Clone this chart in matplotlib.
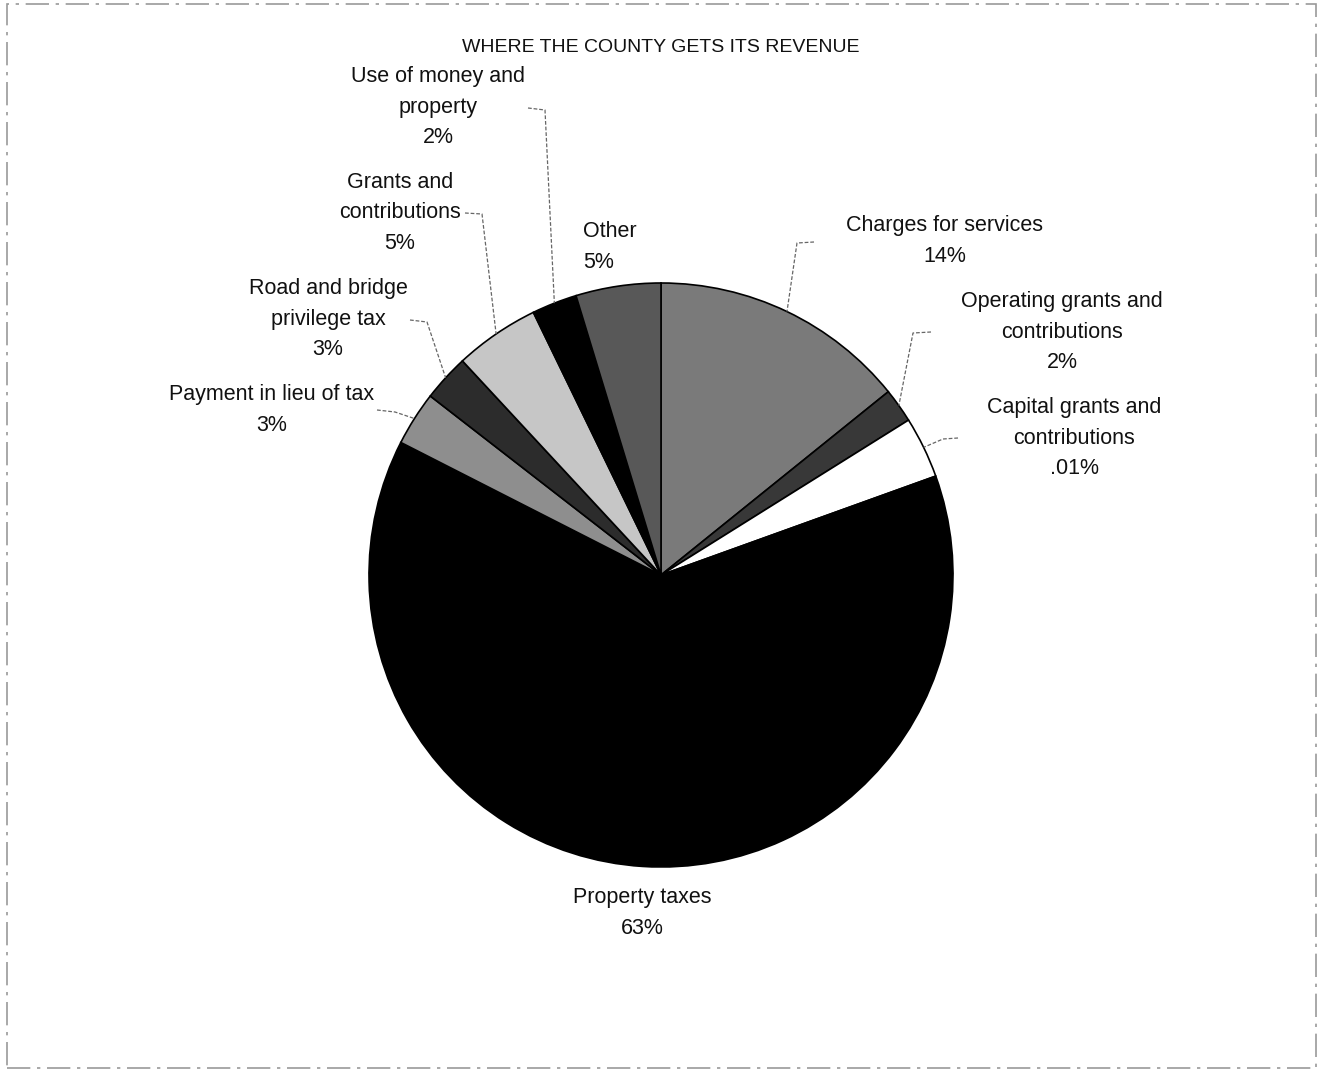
import numpy as np
import matplotlib
matplotlib.use('Agg')
import matplotlib.pyplot as plt
from matplotlib.patches import Rectangle

plt.rcParams['font.family'] = ['Liberation Sans', 'DejaVu Sans']

# slices, clockwise from 12 o'clock
categories = ['Charges for services', 'Operating grants and\ncontributions',
              'Capital grants and\ncontributions', 'Property taxes',
              'Payment in lieu of tax', 'Road and bridge\nprivilege tax',
              'Grants and\ncontributions', 'Use of money and\nproperty', 'Other']
shares = [14.2, 1.9, 3.4, 63.0, 3.0, 2.6, 4.7, 2.5, 4.7]
pct_labels = ['14%', '2%', '.01%', '63%', '3%', '3%', '5%', '2%', '5%']
colors = ['#7a7a7a', '#383838', '#ffffff', '#000000', '#8e8e8e',
          '#2c2c2c', '#c6c6c6', '#000000', '#585858']

W, H = 1322, 1071
fig = plt.figure(figsize=(W / 100, H / 100), dpi=100)
ax = fig.add_axes([0, 0, 1, 1])

cx, cy, r = 661, H - 575, 292
wedges, _ = ax.pie(shares, colors=colors, startangle=90, counterclock=False,
                   center=(cx, cy), radius=r, frame=True,
                   wedgeprops=dict(edgecolor='black', linewidth=1.2))
ax.set_xlim(0, W)
ax.set_ylim(0, H)
ax.axis('off')

# label layout (pixel positions, y from top): text centre, leader start, elbow
layout = {
    0: dict(xy=(945, 241), start=(814, 242), elbow=(797, 243)),
    1: dict(xy=(1062, 332), start=(931, 332), elbow=(913, 333)),
    2: dict(xy=(1074, 438), start=(958, 438), elbow=(943, 439)),
    3: dict(xy=(642, 913), start=None, elbow=None),
    4: dict(xy=(272, 410), start=(377, 410), elbow=(395, 412)),
    5: dict(xy=(328, 319), start=(410, 320), elbow=(427, 322)),
    6: dict(xy=(400, 213), start=(465, 213), elbow=(482, 214)),
    7: dict(xy=(438, 107), start=(528, 108), elbow=(545, 110)),
    8: dict(xy=(583, 247), start=None, elbow=None, ha='left'),
}

for i, w in enumerate(wedges):
    lay = layout[i]
    tx, ty = lay['xy']
    ha = lay.get('ha', 'center')
    ax.text(tx, H - ty, categories[i] + '\n' + pct_labels[i], ha=ha, va='center',
            fontsize=15.5, linespacing=1.6, color='#111111')
    if lay['start'] is not None:
        mid = np.deg2rad((w.theta1 + w.theta2) / 2)
        ex, ey = cx + r * np.cos(mid), cy + r * np.sin(mid)
        sx, sy = lay['start']
        bx, by = lay['elbow']
        ax.plot([sx, bx, ex], [H - sy, H - by, ey], color='#666666', lw=0.9,
                ls=(0, (3, 1.5)), zorder=5)

ax.text(W / 2, H - 47, 'WHERE THE COUNTY GETS ITS REVENUE', ha='center', va='center',
        fontsize=14, color='#111111')

ax.add_patch(Rectangle((7, 3), W - 13, H - 7, fill=False, edgecolor='#9a9a9a',
                       lw=1.2, ls=(0, (14, 4, 2, 4))))

fig.savefig('out.png', dpi=100)
